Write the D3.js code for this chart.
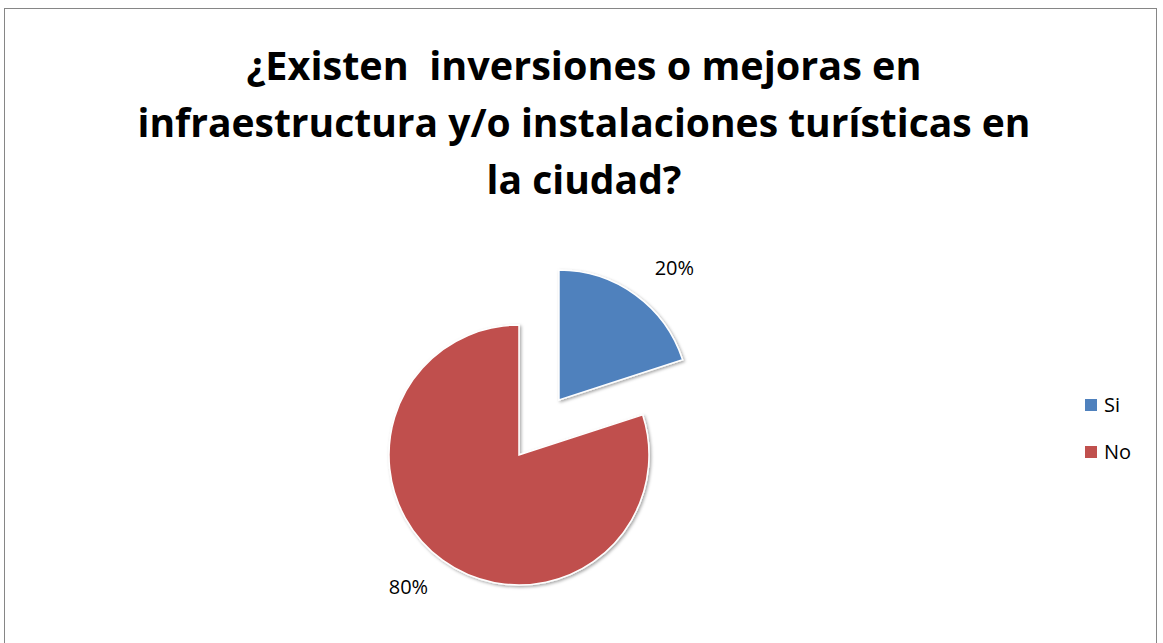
<!DOCTYPE html>
<html>
<head>
<meta charset="utf-8">
<script src="https://cdn.jsdelivr.net/npm/d3@7"></script>
<style>
  body { margin: 0; background: #fff; }
  .title { font-family: "Open Sans", "Noto Sans", sans-serif; font-weight: bold; font-size: 40px; fill: #000; white-space: pre; }
  .label { font-family: "Open Sans", "Noto Sans", sans-serif; font-size: 20px; fill: #000; }
  .legendText { font-family: "Open Sans", "Noto Sans", sans-serif; font-size: 20px; fill: #000; }
</style>
</head>
<body>
<div id="chart"></div>
<script>
// Data
var categories = ["Si", "No"];
var values = [20, 80];
var labels = ["20%", "80%"];
var colors = ["#4F81BD", "#C0504D"];
var titleLines = ["¿Existen  inversiones o mejoras en", "infraestructura y/o instalaciones turísticas en", "la ciudad?"];

// Spacing
var width = 1163, height = 643;
var cx = 519, cy = 455, radius = 130, explode = 68;

var svg = d3.select("#chart")
	.append("svg")
	.attr("width", width)
	.attr("height", height);

// Drop shadow for slices
var defs = svg.append("defs");
var filter = defs.append("filter").attr("id", "shadow")
	.attr("x", "-20%").attr("y", "-20%").attr("width", "140%").attr("height", "140%");
filter.append("feDropShadow")
	.attr("dx", 1.5).attr("dy", 1.5).attr("stdDeviation", 1.5)
	.attr("flood-color", "#000").attr("flood-opacity", 0.35);

// Chart border
svg.append("rect")
	.attr("x", 4.5).attr("y", 8.5)
	.attr("width", 1152).attr("height", 660)
	.attr("fill", "none")
	.attr("stroke", "#868686")
	.attr("stroke-width", 1);

// Title
var titleWidths = [675, 893, 195];
svg.selectAll(".title")
	.data(titleLines)
	.enter()
	.append("text")
	.attr("class", "title")
	.attr("x", 584)
	.attr("y", function(d, i) { return 80 + i * 57; })
	.attr("text-anchor", "middle")
	.attr("textLength", function(d, i) { return titleWidths[i]; })
	.attr("lengthAdjust", "spacingAndGlyphs")
	.text(function(d) { return d; });

// Pie
var pie = d3.pie().sort(null).value(function(d) { return d; });
var arcs = pie(values);
var arc = d3.arc().innerRadius(0).outerRadius(radius);

var g = svg.append("g")
	.attr("transform", "translate(" + cx + "," + cy + ")");

function offset(d, i) {
	if (i !== 0) return [0, 0];
	var a = (d.startAngle + d.endAngle) / 2;
	return [Math.sin(a) * explode, -Math.cos(a) * explode];
}

g.selectAll(".slice")
	.data(arcs)
	.enter()
	.append("path")
	.attr("class", "slice")
	.attr("transform", function(d, i) { var o = offset(d, i); return "translate(" + o[0] + "," + o[1] + ")"; })
	.attr("d", arc)
	.attr("fill", function(d, i) { return colors[i]; })
	.attr("stroke", "#fff")
	.attr("stroke-width", 1.5)
	.attr("filter", "url(#shadow)");

// Data labels
var labelR = [175, 172];
var labelA = [0.72, 3.84];
g.selectAll(".label")
	.data(arcs)
	.enter()
	.append("text")
	.attr("class", "label")
	.attr("x", function(d, i) { return offset(d, i)[0] + Math.sin(labelA[i]) * labelR[i]; })
	.attr("y", function(d, i) { return offset(d, i)[1] - Math.cos(labelA[i]) * labelR[i]; })
	.attr("text-anchor", "middle")
	.attr("dy", "0.35em")
	.text(function(d, i) { return labels[i]; });

// Legend
var legend = svg.selectAll(".legend")
	.data(categories)
	.enter()
	.append("g")
	.attr("class", "legend")
	.attr("transform", function(d, i) { return "translate(1085," + (399 + i * 47) + ")"; });

legend.append("rect")
	.attr("width", 12).attr("height", 12)
	.attr("fill", function(d, i) { return colors[i]; });

legend.append("text")
	.attr("class", "legendText")
	.attr("x", 19)
	.attr("y", 6)
	.attr("dy", "0.35em")
	.text(function(d) { return d; });
</script>
</body>
</html>
